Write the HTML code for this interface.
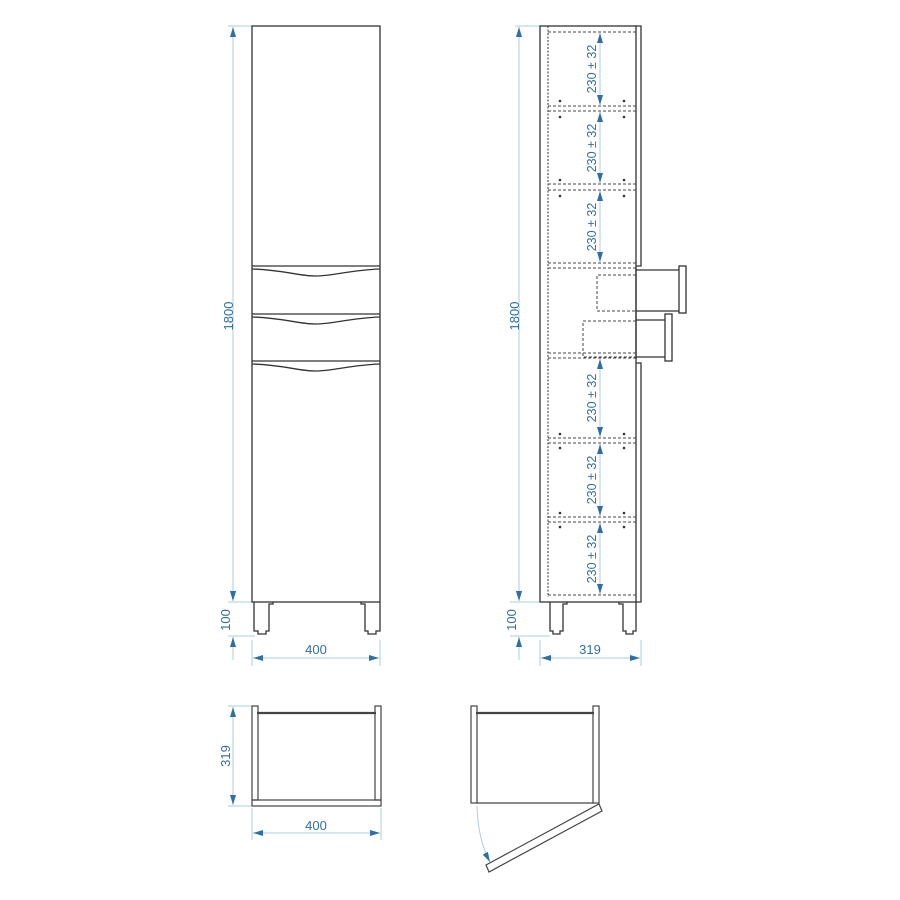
<!DOCTYPE html>
<html><head><meta charset="utf-8"><style>html,body{margin:0;padding:0;background:#fff}svg{display:block}</style></head>
<body>
<svg width="900" height="900" viewBox="0 0 900 900" xmlns="http://www.w3.org/2000/svg" font-family="Liberation Sans, sans-serif">
<defs>
<marker id="a" viewBox="0 0 10 6" refX="10" refY="3" markerWidth="10" markerHeight="6" orient="auto-start-reverse" markerUnits="userSpaceOnUse"><path d="M0,0L10,3L0,6z" fill="#2f6fa6"/></marker>
</defs>
<g stroke="#a9cde3" stroke-width="1" fill="none">
<line x1="228" y1="26" x2="252" y2="26"/><line x1="228" y1="602" x2="252" y2="602"/><line x1="228" y1="636" x2="255" y2="636"/>
<line x1="252" y1="640" x2="252" y2="666"/><line x1="380" y1="640" x2="380" y2="666"/>
<line x1="515" y1="26" x2="540" y2="26"/><line x1="510" y1="602" x2="540" y2="602"/><line x1="510" y1="636" x2="550" y2="636"/>
<line x1="540" y1="640" x2="540" y2="666"/><line x1="641" y1="640" x2="641" y2="666"/>
<line x1="228" y1="706" x2="252" y2="706"/><line x1="228" y1="806" x2="252" y2="806"/>
<line x1="252" y1="808" x2="252" y2="840"/><line x1="381" y1="808" x2="381" y2="840"/>
</g>
<g stroke="#a9cde3" stroke-width="1" fill="none" marker-start="url(#a)" marker-end="url(#a)">
<line x1="233" y1="27" x2="233" y2="601"/>
<line x1="519" y1="27" x2="519" y2="601"/>
<line x1="253" y1="658" x2="379" y2="658"/>
<line x1="541" y1="658" x2="640" y2="658"/>
<line x1="233" y1="707" x2="233" y2="805"/>
<line x1="253" y1="833" x2="380" y2="833"/>
<line x1="600" y1="33" x2="600" y2="105"/>
<line x1="600" y1="112" x2="600" y2="183"/>
<line x1="600" y1="191" x2="600" y2="262"/>
<line x1="600" y1="359" x2="600" y2="437"/>
<line x1="600" y1="444" x2="600" y2="516"/>
<line x1="600" y1="523" x2="600" y2="594"/>
</g>
<g stroke="#a9cde3" stroke-width="1" fill="none">
<line x1="233" y1="580" x2="233" y2="601" marker-end="url(#a)"/>
<line x1="233" y1="660" x2="233" y2="637" marker-end="url(#a)"/>
<line x1="519" y1="580" x2="519" y2="601" marker-end="url(#a)"/>
<line x1="519" y1="660" x2="519" y2="637" marker-end="url(#a)"/>
<path d="M477,806 Q478,840 490,862" marker-end="url(#a)"/>
</g>
<g fill="#2f6fa6" font-size="13">
<text transform="translate(233,316) rotate(-90)" text-anchor="middle">1800</text>
<text transform="translate(519,316) rotate(-90)" text-anchor="middle">1800</text>
<text transform="translate(230,620) rotate(-90)" text-anchor="middle">100</text>
<text transform="translate(516,620) rotate(-90)" text-anchor="middle">100</text>
<text x="316" y="654" text-anchor="middle">400</text>
<text x="590" y="654" text-anchor="middle">319</text>
<text transform="translate(230,756) rotate(-90)" text-anchor="middle">319</text>
<text x="316" y="830" text-anchor="middle">400</text>
<g font-size="12.5">
<text transform="translate(596,69) rotate(-90)" text-anchor="middle">230 ± 32</text>
<text transform="translate(596,148) rotate(-90)" text-anchor="middle">230 ± 32</text>
<text transform="translate(596,227) rotate(-90)" text-anchor="middle">230 ± 32</text>
<text transform="translate(596,398) rotate(-90)" text-anchor="middle">230 ± 32</text>
<text transform="translate(596,480) rotate(-90)" text-anchor="middle">230 ± 32</text>
<text transform="translate(596,559) rotate(-90)" text-anchor="middle">230 ± 32</text>
</g>
</g>
<g stroke="#333" stroke-width="1.3" fill="none">
<rect x="252" y="26" width="128" height="576"/>
<line x1="252" y1="266" x2="380" y2="266"/><path d="M252,269 C285,270 298,276 315,276 C333,276 350,270 380,269"/>
<line x1="252" y1="314" x2="380" y2="314"/><path d="M252,317 C285,318 298,324 315,324 C333,324 350,318 380,317"/>
<line x1="252" y1="361" x2="380" y2="361"/><path d="M252,364 C285,365 298,371 315,371 C333,371 350,365 380,364"/>
<path d="M254,602 L254,631 L258,631 L258,634 L266,634 L266,631 L269,631 L269,604 L273,604 L273,602"/>
<path d="M380,602 L380,631 L376,631 L376,634 L368,634 L368,631 L365,631 L365,604 L361,604 L361,602"/>
</g>
<g stroke="#333" stroke-width="1.3" fill="none">
<rect x="540" y="26" width="96" height="576"/>
<line x1="548" y1="26" x2="548" y2="597" stroke-dasharray="2 1.5" stroke-width="1"/>
<polyline points="636,26 641,26 641,266 636,266"/>
<polyline points="636,363 641,363 641,602 636,602"/>
<line x1="636" y1="268" x2="636" y2="359"/>
<rect x="679" y="266" width="7" height="47"/>
<line x1="636" y1="270" x2="679" y2="270"/><line x1="636" y1="311" x2="679" y2="311"/>
<rect x="665" y="314" width="7" height="47"/>
<line x1="636" y1="320" x2="665" y2="320"/><line x1="636" y1="357" x2="665" y2="357"/>
<path d="M550,602 L550,631 L553,631 L553,634 L560,634 L560,631 L563,631 L563,604 L567,604 L567,602"/>
<path d="M636,602 L636,631 L633,631 L633,634 L626,634 L626,631 L623,631 L623,604 L619,604 L619,602"/>
</g>
<g stroke="#444" stroke-width="1" fill="none" stroke-dasharray="3 2">
<line x1="548" y1="32" x2="636" y2="32"/>
<line x1="548" y1="106" x2="636" y2="106"/><line x1="548" y1="111" x2="636" y2="111"/>
<line x1="548" y1="184" x2="636" y2="184"/><line x1="548" y1="190" x2="636" y2="190"/>
<line x1="548" y1="263" x2="636" y2="263"/><line x1="548" y1="268" x2="636" y2="268"/>
<line x1="548" y1="353" x2="636" y2="353"/><line x1="548" y1="358" x2="636" y2="358"/>
<line x1="548" y1="438" x2="636" y2="438"/><line x1="548" y1="443" x2="636" y2="443"/>
<line x1="548" y1="517" x2="636" y2="517"/><line x1="548" y1="522" x2="636" y2="522"/>
<line x1="548" y1="595" x2="636" y2="595"/>
<polyline points="636,275 597,275 597,311 636,311"/>
<polyline points="636,321 583,321 583,357 636,357"/>
</g>
<g fill="#333">
<circle cx="560" cy="101" r="1.3"/><circle cx="624" cy="101" r="1.3"/><circle cx="560" cy="117" r="1.3"/><circle cx="624" cy="117" r="1.3"/>
<circle cx="560" cy="180" r="1.3"/><circle cx="624" cy="180" r="1.3"/><circle cx="560" cy="196" r="1.3"/><circle cx="624" cy="196" r="1.3"/>
<circle cx="560" cy="434" r="1.3"/><circle cx="624" cy="434" r="1.3"/><circle cx="560" cy="448" r="1.3"/><circle cx="624" cy="448" r="1.3"/>
<circle cx="560" cy="513" r="1.3"/><circle cx="624" cy="513" r="1.3"/><circle cx="560" cy="527" r="1.3"/><circle cx="624" cy="527" r="1.3"/>
</g>
<g stroke="#444" stroke-width="1.2" fill="none">
<rect x="252" y="706" width="6" height="94"/>
<rect x="375" y="706" width="6" height="94"/>
<rect x="252" y="800" width="129" height="6"/>
<line x1="257" y1="713" x2="376" y2="713" stroke-width="2.2"/>
<rect x="471" y="706" width="6" height="97"/>
<rect x="593" y="706" width="6" height="97"/>
<line x1="477" y1="803" x2="593" y2="803"/>
<line x1="476" y1="713" x2="594" y2="713" stroke-width="2.2"/>
<polygon points="599,804 602,811 489,872 486,865"/>
</g>
</svg>
</body></html>
